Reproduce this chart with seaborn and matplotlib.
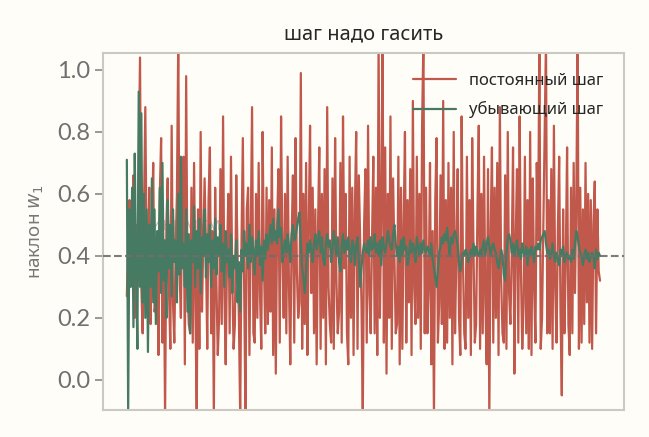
import numpy as np
import pandas as pd
import matplotlib
matplotlib.use("Agg")
import matplotlib.pyplot as plt
import seaborn as sns

# значения наклона по итерациям (оценка по картинке)
const_step = [
    0.27, 0.45, 0.58, 0.32, 0.40, 0.66, 0.20, 0.50, 0.38, 0.72, 1.04, 0.30, 0.15, 0.55, 0.88, 0.42, 0.35, 0.62, 0.18, 0.48,
    0.70, 0.22, 0.25, 0.40, 0.08, 0.60, 0.78, 0.12, 0.45, -0.12, 0.50, 0.65, 0.28, 0.10, 0.82, 0.25, 0.12, 0.42, 0.60, 1.10,
    0.35, 0.20, 0.58, 0.72, 0.05, 0.98, 0.30, 0.18, 0.15, 0.62, 0.12, 0.70, 0.25, -0.12, 0.55, 0.10, 0.80, 0.22, 0.45, 0.65,
    0.42, 0.10, 0.58, 0.75, 0.15, 0.48, -0.12, 0.62, 0.30, 0.08, 0.20, 0.68, 0.18, 0.85, 0.28, 0.05, 0.40, 0.60, 0.15, 0.72,
    0.32, 0.10, 0.18, 0.66, 0.40, 0.20, -0.12, 0.45, 0.78, 0.30, -0.12, 0.55, 0.62, 0.08, 0.48, 0.88, 0.15, 0.12, 0.60, 0.20,
    0.70, 0.28, 0.10, 0.80, 0.38, 0.15, 0.62, 0.18, 0.58, 0.22, 0.75, 0.08, 0.55, 0.02, 0.50, 0.68, 0.12, 0.85, 0.42, 0.20,
    0.60, 0.15, 0.72, 0.30, 0.05, 0.45, 0.66, 0.12, 0.78, 0.35, 0.20, 0.25, 0.99, 0.10, 0.60, 0.18, 0.70, 0.08, 0.50, 0.82,
    0.28, 0.62, 0.15, 0.55, 0.05, 0.48, 0.75, 0.10, 0.60, 0.20, 0.68, 0.05, 0.88, 0.30, 0.18, 0.12, 0.65, 0.10, 0.78, 0.32,
    0.15, 0.22, 0.70, 0.12, 0.85, 0.36, 0.60, 0.15, 0.05, 0.72, 0.20, 0.62, 0.08, 0.55, 0.80, 0.10, 0.66, 0.45, 0.25, -0.12,
    0.50, 0.68, 0.12, 0.82, 0.28, 0.15, 0.45, 0.72, 0.15, 0.62, 0.08, 1.10, 0.20, 0.55, 1.10, 0.12, 0.75, 0.02, 0.60, 0.20,
    0.85, 0.10, 0.65, 0.40, 0.15, 0.18, 0.72, 0.05, 0.62, 0.10, 0.50, 0.80, 0.12, 0.58, 0.25, 0.68, 0.08, 0.90, 0.30, 0.18,
    0.72, 0.20, 0.60, 0.10, 0.82, 1.10, 0.15, 0.62, 0.15, 0.30, 0.70, 0.05, 0.48, -0.12, 0.58, 0.78, 0.12, 0.25, 0.66, 0.18,
    0.90, 0.10, 0.58, 0.12, 0.70, 0.20, 0.62, 0.05, 0.80, 0.15, 0.40, 0.68, 0.20, 0.08, 0.85, 0.38, 0.15, 0.10, 0.72, 0.20,
    0.58, 0.08, 0.78, 0.42, 0.12, 0.18, 0.55, 0.82, 0.10, 0.60, 0.15, 0.72, 0.25, 0.05, 0.68, -0.12, 0.48, 0.75, 0.12, 0.62,
    0.20, 0.70, 0.08, 0.88, 0.32, 0.15, 0.12, 0.66, 0.10, 0.80, 0.28, 0.18, 0.40, 0.75, 0.02, 0.45, 0.68, 0.12, 0.85, 0.35,
    0.10, 0.25, 0.72, 0.15, 0.58, 0.10, 0.80, 0.08, 0.65, 0.30, 0.12, 0.70, 0.45, 1.10, 0.10, 0.20, 0.50, 0.78, 1.10, 0.15,
    0.58, 0.15, 0.68, 0.10, 0.82, 0.30, 0.12, 0.48, 0.72, 0.22, -0.05, 0.55, 0.15, 0.38, 0.75, 0.18, 0.08, 0.62, 0.15, 0.70,
    0.28, 0.58, 1.10, 0.10, 0.62, 0.12, 0.55, 0.18, 0.70, 0.25, 0.60, 0.12, 0.58, 0.10, 0.50, 0.64, 0.15, 0.55, 0.35, 0.32,
]
decay_step = [
    0.71, -0.10, 0.55, 0.30, 0.62, 0.17, 0.73, 0.35, 0.10, 0.93, 0.30, 0.86, 0.25, 0.60, 0.20, 0.55, 0.09, 0.50, 0.30, 0.65,
    0.25, 0.55, 0.18, 0.48, 0.35, 0.62, 0.28, 0.70, 0.32, 0.45, 0.20, 0.58, 0.36, 0.50, 0.27, 0.55, 0.38, 0.45, 0.25, 0.60,
    0.34, 0.72, 0.36, 0.44, 0.30, 0.55, 0.22, 0.47, 0.15, 0.45, 0.38, 0.56, 0.30, 0.48, 0.36, 0.52, 0.28, 0.46, 0.40, 0.55,
    0.33, 0.47, 0.38, 0.50, 0.30, 0.45, 0.36, 0.52, 0.34, 0.46, 0.40, 0.50, 0.35, 0.44, 0.30, 0.48, 0.38, 0.42, 0.33, 0.47,
    0.28, 0.40, 0.36, 0.45, 0.25, 0.38, 0.22, 0.42, 0.35, 0.48, 0.40, 0.44, 0.36, 0.50, 0.38, 0.46, 0.42, 0.34, 0.45, 0.40,
    0.48, 0.37, 0.43, 0.32, 0.45, 0.39, 0.47, 0.42, 0.46, 0.50, 0.44, 0.52, 0.45, 0.48, 0.44, 0.55, 0.46, 0.49, 0.38, 0.42,
    0.45, 0.41, 0.47, 0.43, 0.38, 0.47, 0.50, 0.45, 0.46, 0.49, 0.52, 0.54, 0.44, 0.36, 0.33, 0.28, 0.35, 0.44, 0.41, 0.45,
    0.42, 0.38, 0.44, 0.47, 0.42, 0.45, 0.48, 0.41, 0.46, 0.39, 0.37, 0.44, 0.47, 0.43, 0.45, 0.38, 0.42, 0.48, 0.44, 0.40,
    0.46, 0.38, 0.35, 0.43, 0.47, 0.41, 0.45, 0.42, 0.46, 0.41, 0.38, 0.45, 0.43, 0.37, 0.44, 0.46, 0.39, 0.30, 0.36, 0.41,
    0.44, 0.42, 0.41, 0.45, 0.40, 0.46, 0.42, 0.43, 0.47, 0.41, 0.44, 0.40, 0.45, 0.37, 0.46, 0.43, 0.41, 0.44, 0.48, 0.45,
    0.43, 0.42, 0.47, 0.50, 0.44, 0.40, 0.43, 0.38, 0.45, 0.40, 0.46, 0.42, 0.43, 0.37, 0.40, 0.45, 0.41, 0.44, 0.42, 0.38,
    0.46, 0.43, 0.40, 0.44, 0.41, 0.45, 0.42, 0.41, 0.43, 0.42, 0.40, 0.44, 0.39, 0.36, 0.33, 0.30, 0.36, 0.41, 0.43, 0.46,
    0.44, 0.47, 0.45, 0.49, 0.44, 0.40, 0.46, 0.44, 0.47, 0.48, 0.46, 0.43, 0.38, 0.35, 0.38, 0.41, 0.40, 0.42, 0.41, 0.38,
    0.40, 0.42, 0.40, 0.44, 0.40, 0.43, 0.41, 0.40, 0.42, 0.40, 0.43, 0.45, 0.40, 0.44, 0.46, 0.43, 0.40, 0.43, 0.44, 0.42,
    0.41, 0.38, 0.36, 0.39, 0.42, 0.40, 0.34, 0.32, 0.41, 0.46, 0.47, 0.45, 0.41, 0.44, 0.40, 0.43, 0.45, 0.40, 0.42, 0.39,
    0.44, 0.41, 0.40, 0.43, 0.37, 0.42, 0.40, 0.43, 0.41, 0.38, 0.43, 0.42, 0.44, 0.42, 0.45, 0.46, 0.47, 0.48, 0.44, 0.41,
    0.42, 0.39, 0.41, 0.44, 0.40, 0.38, 0.41, 0.39, 0.37, 0.42, 0.40, 0.43, 0.38, 0.40, 0.41, 0.39, 0.40, 0.38, 0.42, 0.39,
    0.44, 0.48, 0.46, 0.43, 0.41, 0.40, 0.37, 0.40, 0.42, 0.39, 0.41, 0.38, 0.40, 0.41, 0.40, 0.36, 0.42, 0.39, 0.41, 0.40,
]
true_slope = 0.4
labels = ["постоянный шаг", "убывающий шаг"]
colors = ["#c0594b", "#477a62"]

bg = "#fffdf8"
sns.set_style("white")
plt.rcParams["font.family"] = ["Lato", "DejaVu Sans"]

df = pd.DataFrame({
    "iter": list(range(len(const_step))) + list(range(len(decay_step))),
    "w1": const_step + decay_step,
    "kind": [labels[0]] * len(const_step) + [labels[1]] * len(decay_step),
})

fig = plt.figure(figsize=(6.49, 4.37), dpi=100, facecolor=bg)
ax = fig.add_axes([0.159, 0.062, 0.802, 0.817], facecolor=bg)
sns.lineplot(data=df, x="iter", y="w1", hue="kind", palette=colors, linewidth=1.6, ax=ax)
ax.axhline(true_slope, ls="--", color="#6e6e6e", lw=1.5, alpha=0.9, zorder=3)
ax.text(8, 0.5, "минимум", color="#888888", alpha=0.5, fontsize=13, va="center", zorder=1,
        family=["Noto Sans", "DejaVu Sans"])

ax.set_ylim(-0.097, 1.055)
ax.set_yticks([0.0, 0.2, 0.4, 0.6, 0.8, 1.0])
ax.set_xticks([])
ax.set_xlabel("")
ax.set_ylabel("наклон $w_1$", color="#777777", fontsize=13.5, labelpad=8,
              family=["Noto Sans", "DejaVu Sans"])
ax.tick_params(axis="y", left=True, length=6, width=1.2, color="#888888", labelcolor="#707070", labelsize=17)
for s in ax.spines.values():
    s.set_color("#cacac2")
    s.set_linewidth(1.5)
ax.set_title("шаг надо гасить", fontsize=14.5, pad=10, family=["Noto Sans", "DejaVu Sans"])
ax.legend(loc="upper right", frameon=False, handlelength=2.6, labelspacing=0.75,
          prop={"family": ["Noto Sans", "DejaVu Sans"], "size": 12}, borderaxespad=0.8)

fig.savefig("out.png", dpi=100, facecolor=bg)
